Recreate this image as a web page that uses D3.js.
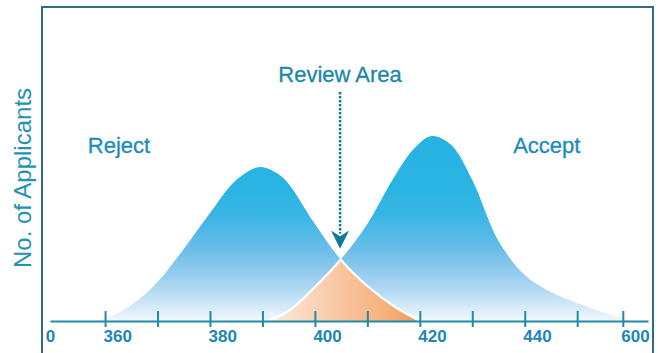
<!DOCTYPE html>
<html>
<head>
<meta charset="utf-8">
<script src="https://cdn.jsdelivr.net/npm/d3@7"></script>
<style>
  html, body { margin: 0; padding: 0; background: #ffffff; }
  svg { display: block; }
</style>
</head>
<body>
<svg id="chart" width="658" height="353"></svg>
<script>
// Score distribution of rejected applicants: score -> number of applicants
const rejectScores = [358, 360, 365, 370, 375, 380, 385, 389.5, 393, 395, 400, 405, 410, 415, 420];
const rejectCounts = [0, 2, 16, 39, 72, 108, 141, 154, 147, 137, 97, 61, 35, 15, 0];

// Score distribution of accepted applicants
const acceptScores = [391, 395, 400, 405, 410, 415, 419, 422.3, 426, 430, 435, 440, 445, 450, 455, 460, 461];
const acceptCounts = [0, 10, 34, 62, 97, 143, 173, 185, 176, 141, 80, 46, 29, 18, 8.5, 1, 0];

// Axis ticks; the last tick is a break that stands for 600
const tickScores = [360, 370, 380, 390, 400, 410, 420, 430, 440, 450, 458.7];
const tickLabels = ["360", "", "380", "", "400", "", "420", "", "440", "", "600"];
const originScore = 349.5;
const originLabel = "0";

// Annotations
const seriesLabels = ["Reject", "Accept"];
const seriesLabelScores = [356.7, 437.8];
const seriesLabelCounts = [168, 168];
const reviewLabel = "Review Area";
const reviewScore = 404.8;
const reviewLabelCount = 239;
const reviewArrowCounts = [229, 70];
const yTitle = "No. of Applicants";

const FONT = "'Liberation Sans', Arial, Helvetica, sans-serif";

const svg = d3.select("#chart");

const x = d3.scaleLinear().domain([349.5, 463.5]).range([50, 648]);
const y = d3.scaleLinear().domain([0, 200]).range([321, 121]);

const rejectData = rejectScores.map((s, i) => ({ s, c: rejectCounts[i] }));
const acceptData = acceptScores.map((s, i) => ({ s, c: acceptCounts[i] }));

const curve = d3.curveCatmullRom.alpha(0.5);

const area = d3.area()
  .x(d => x(d.s))
  .y0(y(0))
  .y1(d => Math.min(y(0), y(d.c)))
  .curve(curve);

const line = d3.line()
  .x(d => x(d.s))
  .y(d => y(d.c))
  .curve(curve);

const defs = svg.append("defs");

// Blue fill fades downward toward the axis
const blue = defs.append("linearGradient")
  .attr("id", "blueFill")
  .attr("gradientUnits", "userSpaceOnUse")
  .attr("x1", 0).attr("x2", 0)
  .attr("y1", y(190)).attr("y2", y(0));
[[0, "#27b2e3"], [0.3, "#29b4e3"], [0.455, "#3bb6e5"], [0.63, "#6cbee9"],
 [0.8, "#a5d3f0"], [0.927, "#d5eaf8"], [1, "#f3f8fd"]]
  .forEach(([o, c]) => blue.append("stop").attr("offset", o).attr("stop-color", c));

// Orange overlap deepens from left to right
const orange = defs.append("linearGradient")
  .attr("id", "orangeFill")
  .attr("gradientUnits", "userSpaceOnUse")
  .attr("y1", 0).attr("y2", 0)
  .attr("x1", x(391)).attr("x2", x(420));
[[0, "#fdeee3"], [0.2, "#fbdcc5"], [0.45, "#f9c8a4"], [0.75, "#f6b280"], [1, "#f29a55"]]
  .forEach(([o, c]) => orange.append("stop").attr("offset", o).attr("stop-color", c));

defs.append("clipPath").attr("id", "clipReject")
  .append("path").attr("d", area(rejectData));
defs.append("clipPath").attr("id", "clipAccept")
  .append("path").attr("d", area(acceptData));

// Frame
svg.append("path")
  .attr("d", "M42,353V7H653V353")
  .attr("fill", "none")
  .attr("stroke", "#306b8b")
  .attr("stroke-width", 2);

// Distributions
svg.append("path").attr("d", area(rejectData)).attr("fill", "url(#blueFill)");
svg.append("path").attr("d", area(acceptData)).attr("fill", "url(#blueFill)");

// Overlap (review area) with a white edge
const overlap = svg.append("g");
overlap.append("path")
  .attr("d", area(acceptData))
  .attr("clip-path", "url(#clipReject)")
  .attr("fill", "url(#orangeFill)");
overlap.append("path")
  .attr("d", line(acceptData))
  .attr("clip-path", "url(#clipReject)")
  .attr("fill", "none").attr("stroke", "#ffffff").attr("stroke-width", 2.2);
overlap.append("path")
  .attr("d", line(rejectData))
  .attr("clip-path", "url(#clipAccept)")
  .attr("fill", "none").attr("stroke", "#ffffff").attr("stroke-width", 2.2);

// X axis
const axisColor = "#1f8ba6";
const axis = d3.axisBottom(x)
  .tickValues(tickScores)
  .tickFormat((d, i) => tickLabels[i])
  .tickSize(0);
const gx = svg.append("g").attr("transform", `translate(0,${y(0)})`).call(axis);
gx.select(".domain").attr("stroke", axisColor).attr("stroke-width", 2);
gx.selectAll(".tick line")
  .attr("y1", -10).attr("y2", 6)
  .attr("stroke", axisColor).attr("stroke-width", 2);
gx.selectAll(".tick text")
  .attr("text-anchor", "start")
  .attr("x", -2).attr("y", 21).attr("dy", 0)
  .attr("fill", "#1c87b3")
  .style("font-family", FONT)
  .style("font-size", "17px")
  .style("font-weight", "bold");
gx.append("text")
  .attr("x", x(originScore) + 0.5).attr("y", 21)
  .attr("fill", "#1c87b3")
  .style("font-family", FONT)
  .style("font-size", "17px")
  .style("font-weight", "bold")
  .text(originLabel);

// Y title
svg.append("text")
  .attr("transform", `translate(31,${y(143)}) rotate(-90)`)
  .attr("text-anchor", "middle")
  .attr("fill", "#2392b5")
  .style("font-family", FONT)
  .style("font-size", "24px")
  .text(yTitle);

// Series labels
svg.selectAll(".series-label")
  .data(seriesLabels)
  .join("text")
  .attr("class", "series-label")
  .attr("x", (d, i) => x(seriesLabelScores[i]))
  .attr("y", (d, i) => y(seriesLabelCounts[i]))
  .attr("fill", "#1b8cba")
  .attr("stroke", "#1b8cba").attr("stroke-width", 0.3)
  .style("font-family", FONT)
  .style("font-size", "22px")
  .text(d => d);

// Review area annotation
const rx = x(reviewScore);
svg.append("text")
  .attr("x", rx).attr("y", y(reviewLabelCount))
  .attr("text-anchor", "middle")
  .attr("fill", "#1a88a7")
  .attr("stroke", "#1a88a7").attr("stroke-width", 0.3)
  .style("font-family", FONT)
  .style("font-size", "22px")
  .text(reviewLabel);

const arrowTop = y(reviewArrowCounts[0]);
const arrowTip = y(reviewArrowCounts[1]);
svg.append("line")
  .attr("x1", rx).attr("x2", rx)
  .attr("y1", arrowTop).attr("y2", arrowTip - 16)
  .attr("stroke", "#137d98")
  .attr("stroke-width", 2.5)
  .attr("stroke-dasharray", "2.5,1.5");
svg.append("path")
  .attr("d", `M${rx - 11.5},${arrowTip - 23} L${rx},${arrowTip - 16} L${rx + 11.5},${arrowTip - 23} L${rx},${arrowTip} Z`)
  .attr("fill", "#137a94")
  .attr("stroke", "#ffffff")
  .attr("stroke-width", 2)
  .attr("stroke-linejoin", "miter");
</script>
</body>
</html>
